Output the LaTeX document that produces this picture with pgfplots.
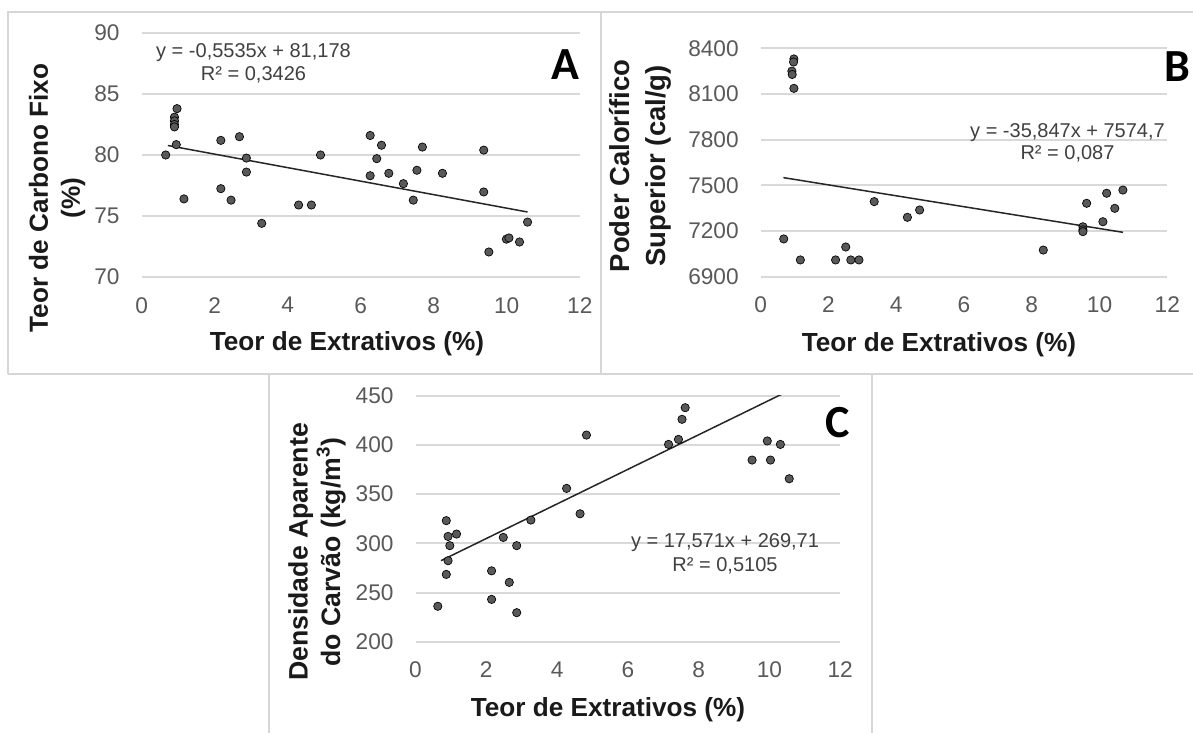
\documentclass[border=0pt]{standalone}
\usepackage{fontspec}
\setmainfont{Liberation Sans}
\newfontfamily\panelfont{Carlito}
\usepackage{pgfplots}
\pgfplotsset{compat=1.18}

\definecolor{gridgray}{HTML}{D9D9D9}
\definecolor{dotgray}{HTML}{595959}
\definecolor{ticktext}{HTML}{595959}
\definecolor{eqtext}{HTML}{404040}
\definecolor{framegray}{HTML}{D6D6D6}
\definecolor{titletext}{HTML}{1A1A1A}

\pgfplotsset{
  excelscatter/.style={
    scale only axis,
    anchor=south west,
    axis line style={draw=none},
    major tick length=0pt,
    tick style={draw=none},
    ymajorgrids,
    major grid style={gridgray, line width=1.2pt},
    xmin=0, xmax=12, xtick={0,2,...,12},
    tick label style={font=\fontsize{13.6}{16}\selectfont, text=ticktext},
    /pgf/number format/assume math mode=true,
    /pgf/number format/1000 sep={},
    xticklabel style={inner sep=0pt, anchor=north, yshift=-12pt},
    yticklabel style={inner sep=0pt, anchor=east, xshift=-13pt},
  },
  dots/.style={only marks, mark=*, mark size=2.5pt,
    mark options={fill=dotgray, draw=none}},
  trend/.style={no marks, line width=0.9pt, color=black!85},
}

\begin{document}
\begin{tikzpicture}
\fill[white] (0,0) rectangle (715.8pt,439.8pt);
\path[use as bounding box] (0,0) rectangle (715.8pt,439.8pt);

% panel frames
\begin{scope}[framegray, line width=1.2pt]
  \draw (4.8pt,215.4pt) -- (4.8pt,432.6pt) -- (715.8pt,432.6pt);
  \draw (4.8pt,215.4pt) -- (715.8pt,215.4pt);
  \draw (360.6pt,432.6pt) -- (360.6pt,215.4pt);
  \draw (161.4pt,215.4pt) -- (161.4pt,0pt);
  \draw (523.2pt,215.4pt) -- (523.2pt,0pt);
\end{scope}

% ---------- A: fixed carbon ----------
\begin{axis}[excelscatter,
  at={(84.96pt,273.6pt)}, width=262.9pt, height=146.4pt,
  ymin=70, ymax=90, ytick={70,75,...,90}]
\addplot[dots] coordinates {
  (0.66,80.0) (0.97,83.8) (0.90,83.1) (0.90,82.8) (0.90,82.5) (0.90,82.3)
  (0.95,80.85) (1.16,76.4) (2.17,81.2) (2.17,77.24) (2.45,76.3) (2.68,81.5)
  (2.87,79.75) (2.87,78.6) (3.29,74.4) (4.30,75.9) (4.65,75.9) (4.90,80.0)
  (6.26,81.6) (6.26,78.3) (6.44,79.7) (6.57,80.8) (6.77,78.5) (7.17,77.65)
  (7.44,76.3) (7.54,78.75) (7.69,80.65) (8.24,78.5) (9.37,80.4) (9.37,76.97)
  (9.51,72.05) (9.99,73.1) (10.06,73.2) (10.35,72.87) (10.57,74.5)
};
\addplot[trend] coordinates {(0.72,80.7795) (10.57,75.3275)};
\end{axis}

\node[rotate=90, align=center, inner sep=0pt, text=titletext,
  font=\fontsize{15.7}{19.2}\selectfont\bfseries] at (34.2pt,321pt)
  {Teor de Carbono Fixo\\(\%)};
\node[inner sep=0pt, text=titletext, font=\fontsize{15.7}{19}\selectfont\bfseries]
  at (208.2pt,233.4pt) {Teor de Extrativos (\%)};
\node[align=center, inner sep=0pt, text=eqtext, font=\fontsize{12}{13.8}\selectfont]
  at (152.1pt,401.7pt) {y = -0,5535x + 81,178\\R² = 0,3426};
\node[inner sep=0pt, font=\panelfont\bfseries\fontsize{27.6}{30}\selectfont]
  at (339pt,400.8pt) {A};

% ---------- B: gross calorific value ----------
\begin{axis}[excelscatter,
  at={(456.42pt,273.78pt)}, width=243.96pt, height=137.04pt,
  ymin=6900, ymax=8400, ytick={6900,7200,...,8400}]
\addplot[dots] coordinates {
  (0.68,7148) (0.98,8330) (0.97,8310) (0.92,8250) (0.93,8228) (0.98,8137)
  (1.17,7010) (2.21,7010) (2.51,7095) (2.66,7010) (2.90,7010) (3.35,7393)
  (4.33,7290) (4.69,7338) (8.34,7075) (9.51,7228) (9.51,7208) (9.51,7196)
  (9.62,7382) (10.10,7261) (10.21,7448) (10.45,7349) (10.69,7469)
};
\addplot[trend] coordinates {(0.67,7550.68) (10.69,7191.50)};
\end{axis}

\node[rotate=90, align=center, inner sep=0pt, text=titletext,
  font=\fontsize{16.5}{21.5}\selectfont\bfseries] at (384.4pt,340.2pt)
  {Poder Calorífico\\Superior (cal/g)};
\node[inner sep=0pt, text=titletext, font=\fontsize{15.7}{19}\selectfont\bfseries]
  at (563.4pt,232.8pt) {Teor de Extrativos (\%)};
\node[align=center, inner sep=0pt, text=eqtext, font=\fontsize{12}{13.2}\selectfont]
  at (640.5pt,354pt) {y = -35,847x + 7574,7\\R² = 0,087};
\node[inner sep=0pt, font=\panelfont\bfseries\fontsize{27.6}{30}\selectfont]
  at (706.2pt,399.6pt) {B};

% ---------- C: apparent charcoal density ----------
\begin{axis}[excelscatter,
  at={(249.3pt,54.78pt)}, width=254.82pt, height=147.6pt,
  ymin=200, ymax=450, ytick={200,250,...,450}]
\addplot[dots] coordinates {
  (0.63,236) (0.87,323) (0.92,307) (0.97,297.6) (0.92,282.3) (0.87,268.4)
  (1.16,309.4) (2.15,272) (2.15,243) (2.48,306) (2.65,260.3) (2.86,297.6)
  (2.86,229.5) (3.26,323.6) (4.27,355.8) (4.65,330) (4.83,410) (7.15,400.5)
  (7.43,405.6) (7.53,426) (7.62,437.8) (9.51,384.6) (9.94,404) (10.03,384.6)
  (10.31,400.5) (10.56,365.6)
};
\addplot[trend] coordinates {(0.72,282.36) (10.56,455.26)};
\end{axis}

\node[rotate=90, align=center, inner sep=0pt, text=titletext,
  font=\fontsize{16}{19.5}\selectfont\bfseries] at (190.2pt,108.6pt)
  {Densidade Aparente\\do Carvão (kg/m\textsuperscript{3})};
\node[inner sep=0pt, text=titletext, font=\fontsize{15.7}{19}\selectfont\bfseries]
  at (364.8pt,13.8pt) {Teor de Extrativos (\%)};
\node[align=center, inner sep=0pt, text=eqtext, font=\fontsize{12}{14.4}\selectfont]
  at (435pt,107.6pt) {y = 17,571x + 269,71\\R² = 0,5105};
\node[inner sep=0pt, font=\panelfont\bfseries\fontsize{27.6}{30}\selectfont]
  at (502.8pt,186pt) {C};
\end{tikzpicture}
\end{document}
